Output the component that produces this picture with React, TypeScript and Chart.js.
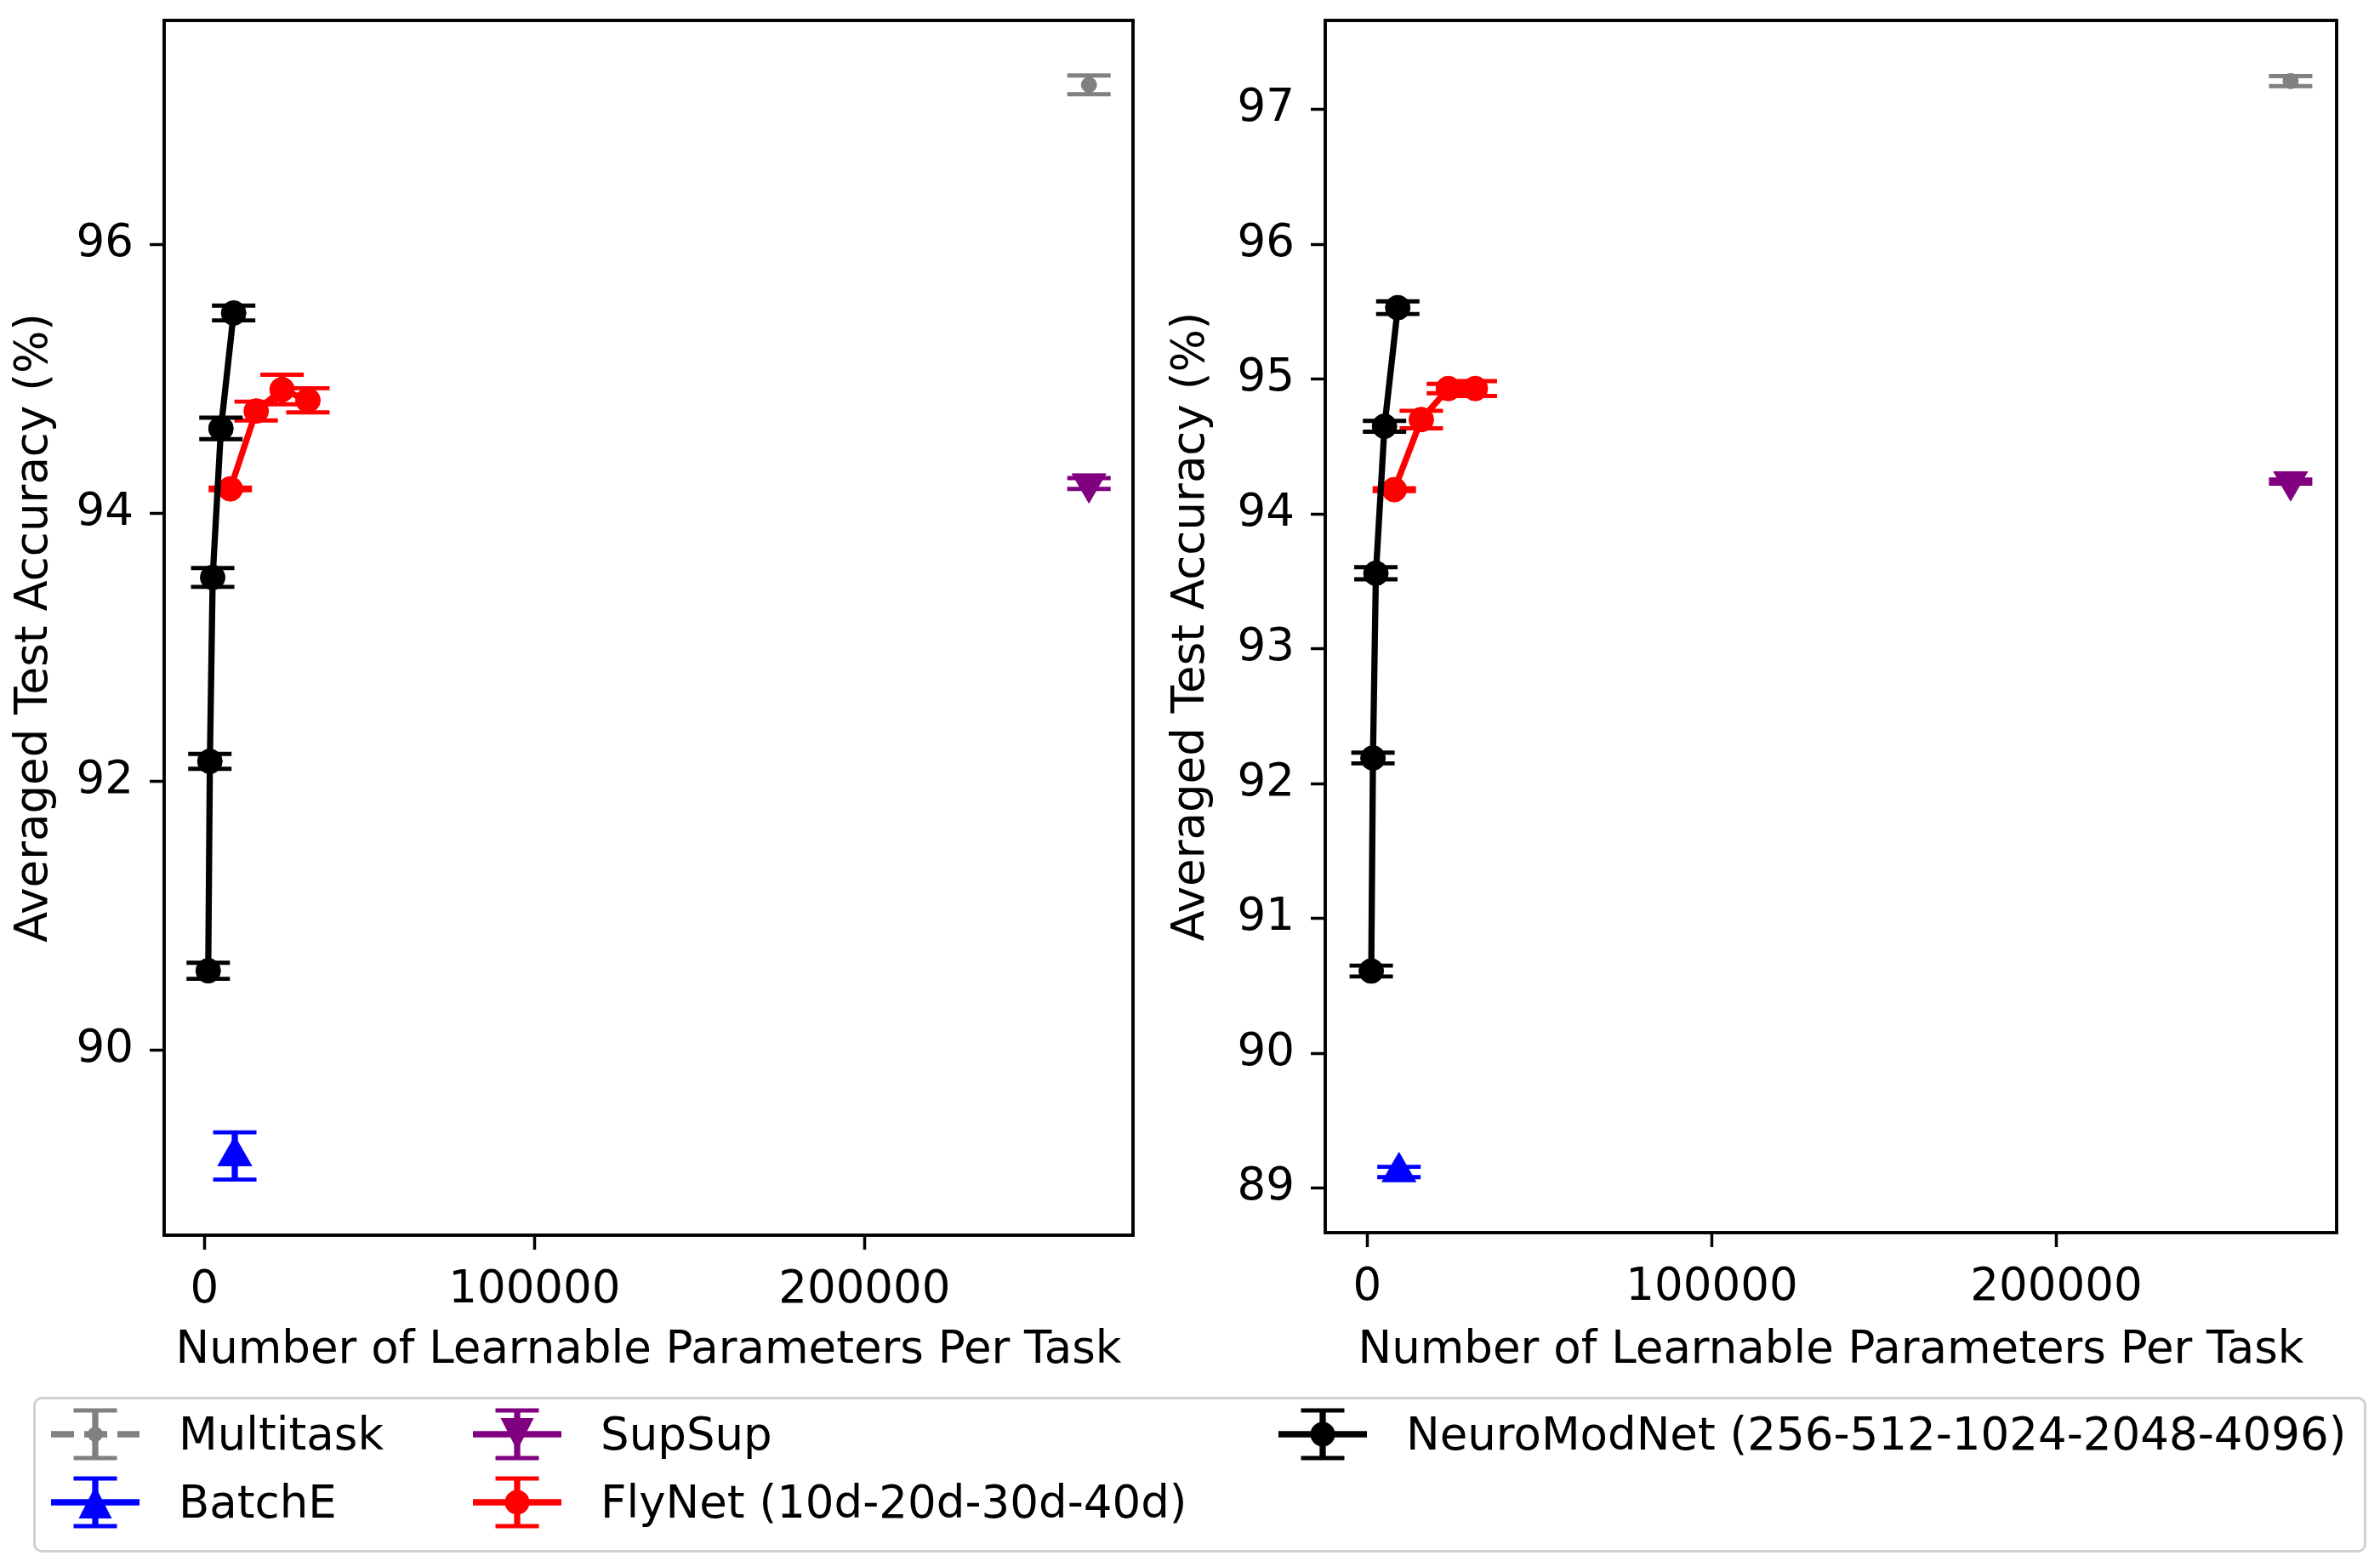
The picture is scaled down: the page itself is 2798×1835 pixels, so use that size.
import { useEffect, useRef } from "react"
import { Chart, registerables, type ChartOptions, type Plugin } from "chart.js"
Chart.register(...registerables)

// ---- shared axis data ----
const X_MIN = -12200
const X_MAX = 281350
const X_TICKS = [0, 100000, 200000]
const X_TITLE = "Number of Learnable Parameters Per Task"
const Y_TITLE = "Averaged Test Accuracy (%)"

const MULTI_X = [268000]
const SUPSUP_X = [268000]
const BATCHE_X = [9200]
const FLY_X = [7840, 15680, 23520, 31360]
const NEURO_X = [1150, 1650, 2500, 5000, 8850]

// ---- left panel ----
const L_Y_MIN = 88.62
const L_Y_MAX = 97.67
const L_Y_TICKS = [90, 92, 94, 96]
const L_MULTI_Y = [97.19]
const L_MULTI_ERR = [0.07]
const L_SUPSUP_Y = [94.22]
const L_SUPSUP_ERR = [0.04]
const L_BATCHE_Y = [89.21]
const L_BATCHE_ERR = [0.176]
const L_FLY_Y = [94.18, 94.76, 94.92, 94.84]
const L_FLY_ERR = [0.01, 0.07, 0.11, 0.09]
const L_NEURO_Y = [90.59, 92.15, 93.52, 94.63, 95.49]
const L_NEURO_ERR = [0.06, 0.055, 0.07, 0.08, 0.055]

// ---- right panel ----
const R_Y_MIN = 88.67
const R_Y_MAX = 97.66
const R_Y_TICKS = [89, 90, 91, 92, 93, 94, 95, 96, 97]
const R_MULTI_Y = [97.21]
const R_MULTI_ERR = [0.037]
const R_SUPSUP_Y = [94.24]
const R_SUPSUP_ERR = [0.015]
const R_BATCHE_Y = [89.12]
const R_BATCHE_ERR = [0.038]
const R_FLY_Y = [94.18, 94.7, 94.93, 94.93]
const R_FLY_ERR = [0.01, 0.065, 0.035, 0.055]
const R_NEURO_Y = [90.61, 92.19, 93.56, 94.65, 95.53]
const R_NEURO_ERR = [0.04, 0.04, 0.045, 0.04, 0.047]

const FONT = "'DejaVu Sans', sans-serif"
const FS = 53
const LINE_W = 7.3
const CAP_W = 4.9
const CAP_HALF = 25.5

type Style = { label: string; color: string; pointStyle: string; radius: number; rotation: number; line: boolean; dashed: boolean; order: number }

const STYLES: Record<string, Style> = {
  multi: { label: "Multitask", color: "#808080", pointStyle: "circle", radius: 9, rotation: 0, line: false, dashed: true, order: 4 },
  batche: { label: "BatchE", color: "#0000ff", pointStyle: "triangle", radius: 23, rotation: 0, line: false, dashed: false, order: 3 },
  supsup: { label: "SupSup", color: "#800080", pointStyle: "triangle", radius: 23, rotation: 180, line: false, dashed: false, order: 2 },
  fly: { label: "FlyNet (10d-20d-30d-40d)", color: "#ff0000", pointStyle: "circle", radius: 14.5, rotation: 0, line: true, dashed: false, order: 1 },
  neuro: { label: "NeuroModNet (256-512-1024-2048-4096)", color: "#000000", pointStyle: "circle", radius: 14.5, rotation: 0, line: true, dashed: false, order: 0 },
}

function makeDataset(key: string, xs: number[], ys: number[], errs: number[]) {
  const st = STYLES[key]
  return {
    label: st.label,
    data: xs.map((x, i) => ({ x, y: ys[i] })),
    errors: errs,
    borderColor: st.color,
    backgroundColor: st.color,
    pointBackgroundColor: st.color,
    pointBorderColor: st.color,
    pointStyle: st.pointStyle,
    pointRadius: st.radius,
    pointRotation: st.rotation,
    pointBorderWidth: 1,
    showLine: st.line,
    borderWidth: LINE_W,
    order: st.order,
  }
}

// vertical error bars with caps, drawn right after each dataset
const errorBars: Plugin<"scatter"> = {
  id: "errorBars",
  afterDatasetDraw(chart, args) {
    const ds: any = chart.data.datasets[args.index]
    const errs: number[] | undefined = ds.errors
    if (!errs) return
    const { ctx } = chart
    const xs = chart.scales.x
    const ys = chart.scales.y
    ctx.save()
    ctx.strokeStyle = ds.borderColor
    ctx.setLineDash([])
    ds.data.forEach((p: { x: number; y: number }, i: number) => {
      const px = xs.getPixelForValue(p.x)
      const top = ys.getPixelForValue(p.y + errs[i])
      const bot = ys.getPixelForValue(p.y - errs[i])
      ctx.lineWidth = LINE_W
      ctx.beginPath()
      ctx.moveTo(px, top)
      ctx.lineTo(px, bot)
      ctx.stroke()
      ctx.lineWidth = CAP_W
      ctx.beginPath()
      ctx.moveTo(px - CAP_HALF, top)
      ctx.lineTo(px + CAP_HALF, top)
      ctx.moveTo(px - CAP_HALF, bot)
      ctx.lineTo(px + CAP_HALF, bot)
      ctx.stroke()
    })
    ctx.restore()
  },
}

// matplotlib-style box around the axes
const frame: Plugin<"scatter"> = {
  id: "frame",
  afterDatasetsDraw(chart) {
    const { ctx, chartArea: a } = chart
    ctx.save()
    ctx.strokeStyle = "#000"
    ctx.lineWidth = 3.9
    ctx.strokeRect(a.left, a.top, a.right - a.left, a.bottom - a.top)
    ctx.restore()
  },
}

type PanelProps = {
  left: number
  width: number
  height: number
  yAxisWidth: number
  yTitlePad: number
  padRight: number
  xAxisHeight: number
  yMin: number
  yMax: number
  yTicks: number[]
  datasets: any[]
}

function Panel(p: PanelProps) {
  const canvasRef = useRef<HTMLCanvasElement>(null)

  useEffect(() => {
    const canvas = canvasRef.current
    if (!canvas) return
    const font = { family: FONT, size: FS, lineHeight: 1.2 }
    const options: ChartOptions<"scatter"> = {
      animation: false,
      responsive: false,
      devicePixelRatio: 1,
      layout: { padding: { top: 21, right: p.padRight, left: 0, bottom: 0 } },
      plugins: { legend: { display: false }, tooltip: { enabled: false } },
      scales: {
        x: {
          type: "linear",
          min: X_MIN,
          max: X_MAX,
          afterBuildTicks: (s: any) => { s.ticks = X_TICKS.map((v) => ({ value: v })) },
          afterFit: (s: any) => { s.height = p.xAxisHeight; s.paddingLeft = 0; s.paddingRight = 0 },
          border: { display: false },
          grid: { drawOnChartArea: false, drawTicks: true, tickLength: 17, tickWidth: 3.5, tickColor: "#000" },
          ticks: { color: "#000", font, padding: 16, maxRotation: 0, callback: (v) => String(v) },
          title: { display: true, text: X_TITLE, color: "#000", font, padding: { top: 0, bottom: 20 } },
        },
        y: {
          type: "linear",
          min: p.yMin,
          max: p.yMax,
          afterBuildTicks: (s: any) => { s.ticks = p.yTicks.map((v) => ({ value: v })) },
          afterFit: (s: any) => { s.width = p.yAxisWidth; s.paddingTop = 0; s.paddingBottom = 0 },
          border: { display: false },
          grid: { drawOnChartArea: false, drawTicks: true, tickLength: 17, tickWidth: 3.5, tickColor: "#000" },
          ticks: { color: "#000", font, padding: 19, callback: (v) => String(v) },
          title: { display: true, text: Y_TITLE, color: "#000", font, padding: { top: p.yTitlePad, bottom: 0 } },
        },
      },
    }
    const chart = new Chart(canvas, {
      type: "scatter",
      data: { datasets: p.datasets },
      options,
      plugins: [errorBars, frame],
    })
    return () => { chart.destroy() }
  }, [p])

  return (
    <canvas
      ref={canvasRef}
      width={p.width}
      height={p.height}
      style={{ position: "absolute", left: p.left, top: 0, width: p.width, height: p.height }}
    />
  )
}

const LEFT_DATASETS = [
  makeDataset("multi", MULTI_X, L_MULTI_Y, L_MULTI_ERR),
  makeDataset("batche", BATCHE_X, L_BATCHE_Y, L_BATCHE_ERR),
  makeDataset("supsup", SUPSUP_X, L_SUPSUP_Y, L_SUPSUP_ERR),
  makeDataset("fly", FLY_X, L_FLY_Y, L_FLY_ERR),
  makeDataset("neuro", NEURO_X, L_NEURO_Y, L_NEURO_ERR),
]
const RIGHT_DATASETS = [
  makeDataset("multi", MULTI_X, R_MULTI_Y, R_MULTI_ERR),
  makeDataset("batche", BATCHE_X, R_BATCHE_Y, R_BATCHE_ERR),
  makeDataset("supsup", SUPSUP_X, R_SUPSUP_Y, R_SUPSUP_ERR),
  makeDataset("fly", FLY_X, R_FLY_Y, R_FLY_ERR),
  makeDataset("neuro", NEURO_X, R_NEURO_Y, R_NEURO_ERR),
]

const LEFT_PANEL: PanelProps = {
  left: 0, width: 1400, height: 1640, yAxisWidth: 193, yTitlePad: 9, padRight: 68, xAxisHeight: 188,
  yMin: L_Y_MIN, yMax: L_Y_MAX, yTicks: L_Y_TICKS, datasets: LEFT_DATASETS,
}
const RIGHT_PANEL: PanelProps = {
  left: 1340, width: 1458, height: 1640, yAxisWidth: 218, yTitlePad: 29, padRight: 51, xAxisHeight: 191,
  yMin: R_Y_MIN, yMax: R_Y_MAX, yTicks: R_Y_TICKS, datasets: RIGHT_DATASETS,
}

// legend layout: [key, column x of handle, row center y]
const LEGEND_ORDER: [string, number, number][] = [
  ["multi", 60, 1686],
  ["batche", 60, 1766],
  ["supsup", 556, 1686],
  ["fly", 556, 1766],
  ["neuro", 1503, 1686],
]

function Handle({ st }: { st: Style }) {
  const c = st.color
  let marker
  if (st.pointStyle === "circle") {
    marker = <circle cx={52} cy={32} r={st.radius} fill={c} />
  } else if (st.rotation === 180) {
    marker = <polygon points="32.5,13 71.5,13 52,51" fill={c} />
  } else {
    marker = <polygon points="52,13 71.5,51 32.5,51" fill={c} />
  }
  return (
    <svg width={104} height={64} style={{ position: "absolute", left: 0, top: 0, overflow: "visible" }}>
      <line x1={0} y1={32} x2={104} y2={32} stroke={c} strokeWidth={LINE_W} strokeDasharray={st.dashed ? "27 12" : undefined} />
      <line x1={52} y1={4} x2={52} y2={60} stroke={c} strokeWidth={LINE_W} />
      <line x1={52 - CAP_HALF} y1={4} x2={52 + CAP_HALF} y2={4} stroke={c} strokeWidth={CAP_W} />
      <line x1={52 - CAP_HALF} y1={60} x2={52 + CAP_HALF} y2={60} stroke={c} strokeWidth={CAP_W} />
      {marker}
    </svg>
  )
}

function Legend() {
  return (
    <>
      <div
        style={{
          position: "absolute", left: 39, top: 1642, width: 2737, height: 177,
          border: "3px solid #d0d0d0", borderRadius: 10, background: "#fff",
        }}
      />
      {LEGEND_ORDER.map(([key, x, cy]) => {
        const st = STYLES[key]
        return (
          <div key={key} style={{ position: "absolute", left: x, top: cy - 32, height: 64 }}>
            <Handle st={st} />
            <div
              style={{
                position: "absolute", left: 150, top: 0, height: 64, lineHeight: "64px",
                fontFamily: FONT, fontSize: FS, color: "#000", whiteSpace: "nowrap",
              }}
            >
              {st.label}
            </div>
          </div>
        )
      })}
    </>
  )
}

export default function App() {
  useEffect(() => {
    document.body.style.margin = "0"
  }, [])
  return (
    <div style={{ position: "relative", width: 2798, height: 1835, background: "#fff", overflow: "hidden" }}>
      <Panel {...LEFT_PANEL} />
      <Panel {...RIGHT_PANEL} />
      <Legend />
    </div>
  )
}
